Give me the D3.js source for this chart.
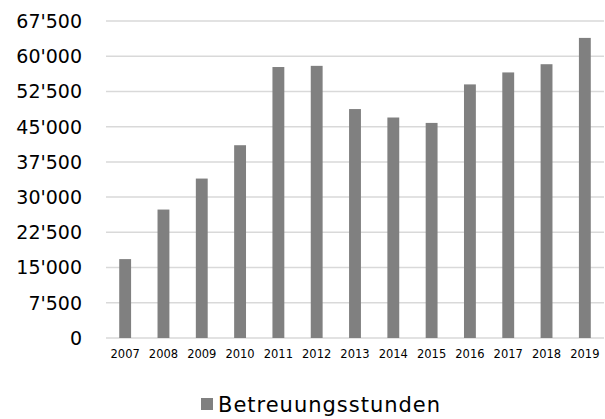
<!DOCTYPE html>
<html>
<head>
<meta charset="utf-8">
<script src="https://cdn.jsdelivr.net/npm/d3@7"></script>
<style>
  body { margin: 0; background: #fff; }
  svg text { font-family: "DejaVu Sans", sans-serif; fill: #000; }
</style>
</head>
<body>
<div id="chart"></div>
<script>
const years = ["2007", "2008", "2009", "2010", "2011", "2012", "2013", "2014", "2015", "2016", "2017", "2018", "2019"];
const hours = [16800, 27350, 33950, 41050, 57700, 57950, 48750, 46950, 45800, 54000, 56550, 58300, 63900];
const yTicks = [0, 7500, 15000, 22500, 30000, 37500, 45000, 52500, 60000, 67500];
const seriesName = "Betreuungsstunden";

const width = 605, height = 419;
const margins = { top: 21, right: 1, bottom: 81, left: 106 };
const innerWidth = width - margins.left - margins.right;
const innerHeight = height - margins.top - margins.bottom;

const svg = d3.select("#chart")
  .append("svg")
  .attr("width", width)
  .attr("height", height);

const mainG = svg.append("g")
  .attr("transform", `translate(${margins.left},${margins.top})`);

const x = d3.scaleBand()
  .domain(years)
  .range([0, innerWidth])
  .paddingInner(0.69)
  .paddingOuter(0.345);

const y = d3.scaleLinear()
  .domain([0, 67500])
  .range([innerHeight, 0]);

const fmt = (v) => d3.format(",")(v).replace(/,/g, "'");

// gridlines
mainG.append("g")
  .selectAll("line")
  .data(yTicks)
  .join("line")
  .attr("x1", 0)
  .attr("x2", innerWidth)
  .attr("y1", (d) => y(d))
  .attr("y2", (d) => y(d))
  .attr("stroke", "#d9d9d9")
  .attr("stroke-width", 1.5);

// y labels
mainG.append("g")
  .selectAll("text")
  .data(yTicks)
  .join("text")
  .attr("x", -24)
  .attr("y", (d) => y(d))
  .attr("dy", "0.36em")
  .attr("text-anchor", "end")
  .attr("font-size", "19px")
  .text((d) => fmt(d));

// bars
mainG.append("g")
  .selectAll("rect")
  .data(years.map((yr, i) => ({ yr, v: hours[i] })))
  .join("rect")
  .attr("x", (d) => x(d.yr))
  .attr("width", x.bandwidth())
  .attr("y", (d) => y(d.v))
  .attr("height", (d) => innerHeight - y(d.v))
  .attr("fill", "#808080");

// x labels
mainG.append("g")
  .selectAll("text")
  .data(years)
  .join("text")
  .attr("x", (d) => x(d) + x.bandwidth() / 2)
  .attr("y", innerHeight + 20)
  .attr("text-anchor", "middle")
  .attr("font-size", "11.5px")
  .text((d) => d);

// legend
const legend = svg.append("g")
  .attr("transform", "translate(201,398)");
legend.append("rect")
  .attr("width", 12)
  .attr("height", 12)
  .attr("fill", "#808080");
legend.append("text")
  .attr("x", 17)
  .attr("y", 14)
  .attr("font-size", "21px")
  .attr("textLength", 222)
  .attr("lengthAdjust", "spacing")
  .text(seriesName);
</script>
</body>
</html>
